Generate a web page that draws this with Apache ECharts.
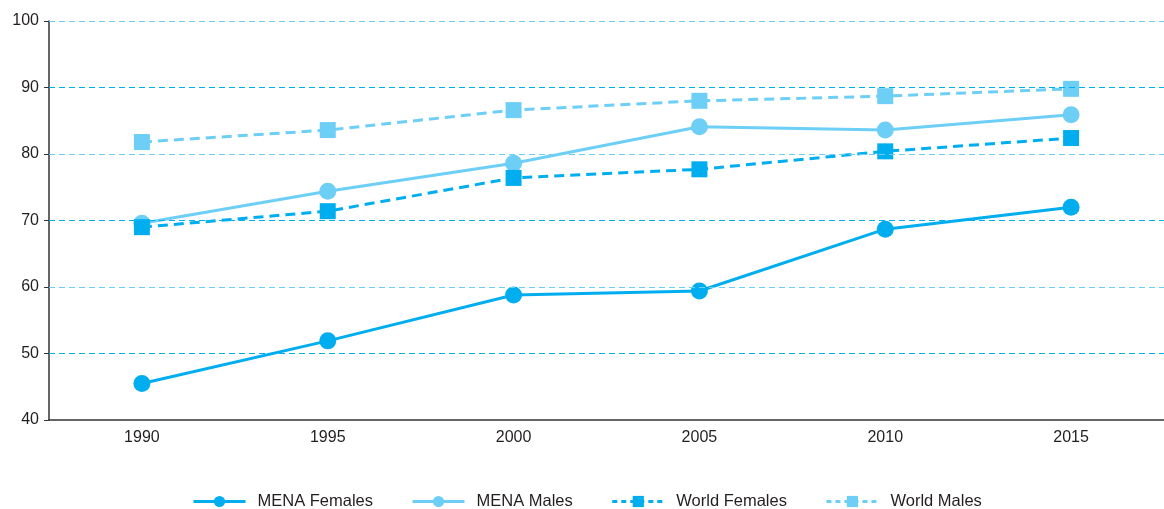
<!DOCTYPE html>
<html>
<head>
<meta charset="utf-8">
<script src="https://cdn.jsdelivr.net/npm/echarts@6/dist/echarts.min.js"></script>
<style>
  html, body { margin: 0; padding: 0; background: #fff; }
  #chart { width: 1164px; height: 509px; }
</style>
</head>
<body>
<div id="chart"></div>
<script>
// Years on the horizontal axis
const years = ['1990', '1995', '2000', '2005', '2010', '2015'];

// Rates by group (percent)
const menaFemales = [45.5, 51.9, 58.8, 59.4, 68.7, 72.0];
const menaMales = [69.6, 74.4, 78.6, 84.1, 83.6, 85.9];
const worldFemales = [69.0, 71.4, 76.4, 77.7, 80.4, 82.4];
const worldMales = [81.8, 83.6, 86.6, 88.0, 88.7, 89.8];

// Horizontal guide lines above the baseline
const gridValues = [50, 60, 70, 80, 90, 100];

const DARK = '#00aeef';
const LIGHT = '#6dcff6';
const FONT = 'Liberation Sans';
const TEXT = '#231f20';

function makeSeries(name, data, color, dashed, symbol) {
  return {
    name: name,
    type: 'line',
    data: data,
    symbol: symbol,
    symbolSize: symbol === 'circle' ? 17 : 16,
    itemStyle: { color: color },
    lineStyle: { color: color, width: 3, type: dashed ? [10, 6] : 'solid' },
    emphasis: { disabled: true },
    z: 3
  };
}

// Dashed guides alternate between the two blues
const guides = {
  name: 'guides',
  type: 'line',
  data: [],
  silent: true,
  z: 1,
  markLine: {
    silent: true,
    symbol: ['none', 'none'],
    label: { show: false },
    emphasis: { disabled: true },
    data: gridValues.map(function (v, i) {
      return {
        yAxis: v,
        lineStyle: { color: i % 2 === 0 ? DARK : LIGHT, type: [6, 4], width: 1 }
      };
    })
  }
};

const chart = echarts.init(document.getElementById('chart'), null, { renderer: 'canvas' });
chart.setOption({
  animation: false,
  backgroundColor: '#ffffff',
  grid: { left: 49, right: -1, top: 21, bottom: 89, containLabel: false },
  legend: {
    left: 187,
    top: 488,
    itemWidth: 52,
    itemHeight: 14,
    itemGap: 38,
    lineStyle: { width: 3 },
    textStyle: { fontFamily: FONT, fontSize: 16.5, color: TEXT, padding: [0, 0, 0, 7] },
    data: [
      { name: 'MENA Females' },
      { name: 'MENA Males' },
      { name: 'World Females', lineStyle: { type: [5, 4], width: 3 } },
      { name: 'World Males', lineStyle: { type: [5, 4], width: 3 } }
    ]
  },
  xAxis: {
    type: 'category',
    data: years,
    boundaryGap: true,
    axisLine: { lineStyle: { color: '#333333', width: 1.5 } },
    axisTick: { show: false },
    axisLabel: { fontFamily: FONT, fontSize: 16, color: TEXT, margin: 10 }
  },
  yAxis: {
    type: 'value',
    min: 40,
    max: 100,
    interval: 10,
    axisLine: { show: true, lineStyle: { color: '#333333', width: 1.5 } },
    axisTick: { show: true, length: 5, lineStyle: { color: '#333333' } },
    axisLabel: { fontFamily: FONT, fontSize: 16, color: TEXT, margin: 10 },
    splitLine: { show: false }
  },
  series: [
    guides,
    makeSeries('MENA Females', menaFemales, DARK, false, 'circle'),
    makeSeries('MENA Males', menaMales, LIGHT, false, 'circle'),
    makeSeries('World Females', worldFemales, DARK, true, 'rect'),
    makeSeries('World Males', worldMales, LIGHT, true, 'rect')
  ]
});
</script>
</body>
</html>
